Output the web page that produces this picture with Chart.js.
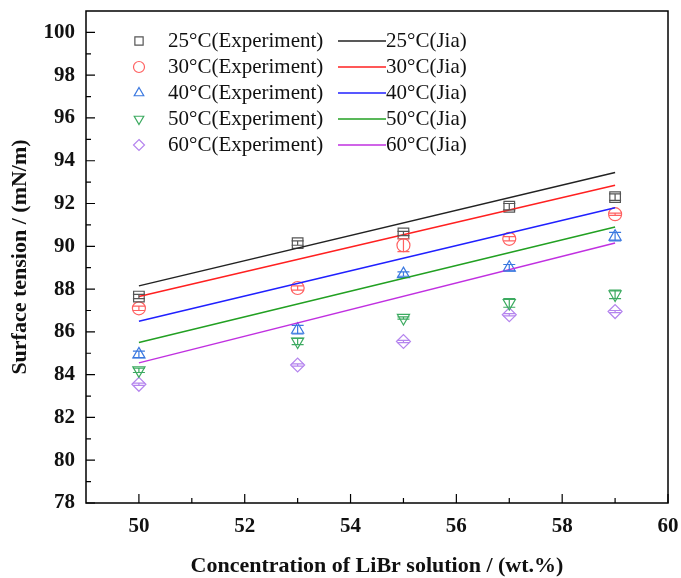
<!DOCTYPE html>
<html lang="en">
<head>
  <meta charset="UTF-8" />
  <title>Surface tension of LiBr solution</title>
  <script src="https://cdn.jsdelivr.net/npm/chart.js@4.4.1/dist/chart.umd.min.js"></script>
  <style>
    body { margin: 0; background: #fff; }
    #wrap { width: 681px; height: 578px; }
  </style>
</head>
<body>
  <div id="wrap"><canvas id="chart" width="681" height="578"></canvas></div>

  <script>
    // measured points (wt.%)
    const concentrations = [50, 53, 55, 57, 59];
    const exp25 = [87.65, 90.15, 90.6, 91.85, 92.3];
    const exp30 = [87.1, 88.05, 90.05, 90.35, 91.5];
    const exp40 = [84.95, 86.1, 88.7, 89.0, 90.45];
    const exp50 = [84.2, 85.55, 86.65, 87.35, 87.75];
    const exp60 = [83.55, 84.45, 85.55, 86.8, 86.95];
    const err25 = [0.1, 0.1, 0.1, 0.15, 0.15];
    const err30 = [0.1, 0.1, 0.3, 0.1, 0.05];
    const err40 = [0.15, 0.2, 0.1, 0.15, 0.2];
    const err50 = [0.1, 0.15, 0.05, 0.2, 0.2];
    const err60 = [0.05, 0.05, 0.05, 0.05, 0.05];

    // Jia model lines
    const modelConc = [50, 59];
    const jia25 = [88.15, 93.45];
    const jia30 = [87.65, 92.85];
    const jia40 = [86.5, 91.8];
    const jia50 = [85.5, 90.9];
    const jia60 = [84.55, 90.15];

    const temps = ['25°C', '30°C', '40°C', '50°C', '60°C'];
    const xTicks = [50, 52, 54, 56, 58, 60];
    const yTicks = [78, 80, 82, 84, 86, 88, 90, 92, 94, 96, 98, 100];
    const xMinor = [51, 53, 55, 57, 59];
    const yMinor = [79, 81, 83, 85, 87, 89, 91, 93, 95, 97, 99];

    const expColors = ['#555555', '#ff6060', '#3a78e0', '#3caa60', '#b585ee'];
    const lineColors = ['#222222', '#ff2020', '#2020ff', '#22a022', '#c030e0'];
    const markers = ['rect', 'circle', 'triangle', 'triangle', 'rectRot'];
    const rotations = [0, 0, 0, 180, 0];
    const radii = [7.5, 6.5, 7, 7, 7];

    const expSets = [exp25, exp30, exp40, exp50, exp60];
    const errSets = [err25, err30, err40, err50, err60];
    const jiaSets = [jia25, jia30, jia40, jia50, jia60];

    const pts = (xs, ys) => xs.map((x, i) => ({ x: x, y: ys[i] }));

    const datasets = [];
    temps.forEach((t, i) => {
      datasets.push({
        type: 'line',
        label: t + '(Jia)',
        data: pts(modelConc, jiaSets[i]),
        borderColor: lineColors[i],
        borderWidth: 1.5,
        pointRadius: 0,
        fill: false
      });
    });
    temps.forEach((t, i) => {
      datasets.push({
        type: 'scatter',
        label: t + '(Experiment)',
        data: pts(concentrations, expSets[i]),
        errors: errSets[i],
        borderColor: expColors[i],
        backgroundColor: 'transparent',
        pointStyle: markers[i],
        rotation: rotations[i],
        pointRadius: radii[i],
        borderWidth: 1.2
      });
    });

    const serif = '"Liberation Serif", "Times New Roman", serif';

    // small vertical error bars with caps
    const errorBars = {
      id: 'errorBars',
      afterDatasetsDraw(chart) {
        const ctx = chart.ctx;
        const xs = chart.scales.x, ys = chart.scales.y;
        chart.data.datasets.forEach(ds => {
          if (!ds.errors) return;
          ctx.save();
          ctx.strokeStyle = ds.borderColor;
          ctx.lineWidth = 1.2;
          ds.data.forEach((p, i) => {
            const px = xs.getPixelForValue(p.x);
            const y1 = ys.getPixelForValue(p.y + ds.errors[i]);
            const y2 = ys.getPixelForValue(p.y - ds.errors[i]);
            ctx.beginPath();
            ctx.moveTo(px, y1); ctx.lineTo(px, y2);
            ctx.moveTo(px - 6, y1); ctx.lineTo(px + 6, y1);
            ctx.moveTo(px - 6, y2); ctx.lineTo(px + 6, y2);
            ctx.stroke();
          });
          ctx.restore();
        });
      }
    };

    // box frame with inward ticks
    const frame = {
      id: 'frame',
      afterDraw(chart) {
        const ctx = chart.ctx;
        const a = chart.chartArea;
        const xs = chart.scales.x, ys = chart.scales.y;
        ctx.save();
        ctx.strokeStyle = '#000';
        ctx.lineWidth = 1.5;
        ctx.strokeRect(a.left, a.top, a.right - a.left, a.bottom - a.top);
        ctx.lineWidth = 1.2;
        ctx.beginPath();
        xTicks.forEach(v => { const p = xs.getPixelForValue(v); ctx.moveTo(p, a.bottom); ctx.lineTo(p, a.bottom - 9); });
        xMinor.forEach(v => { const p = xs.getPixelForValue(v); ctx.moveTo(p, a.bottom); ctx.lineTo(p, a.bottom - 5); });
        yTicks.forEach(v => { const p = ys.getPixelForValue(v); ctx.moveTo(a.left, p); ctx.lineTo(a.left + 9, p); });
        yMinor.forEach(v => { const p = ys.getPixelForValue(v); ctx.moveTo(a.left, p); ctx.lineTo(a.left + 5, p); });
        ctx.stroke();
        ctx.restore();
      }
    };

    function drawMarker(ctx, style, rot, x, y, r) {
      ctx.beginPath();
      if (style === 'rect') {
        ctx.rect(x - r * 0.75, y - r * 0.75, r * 1.5, r * 1.5);
      } else if (style === 'circle') {
        ctx.arc(x, y, r, 0, Math.PI * 2);
      } else if (style === 'triangle') {
        const s = rot ? -1 : 1;
        ctx.moveTo(x, y - s * r);
        ctx.lineTo(x + r * 0.866, y + s * r * 0.5);
        ctx.lineTo(x - r * 0.866, y + s * r * 0.5);
        ctx.closePath();
      } else {
        ctx.moveTo(x, y - r); ctx.lineTo(x + r, y); ctx.lineTo(x, y + r); ctx.lineTo(x - r, y);
        ctx.closePath();
      }
      ctx.stroke();
    }

    // two-column legend: experiment markers left, model lines right
    const legend2 = {
      id: 'legend2',
      afterDraw(chart) {
        const ctx = chart.ctx;
        ctx.save();
        ctx.font = '21px ' + serif;
        ctx.fillStyle = '#111';
        ctx.textBaseline = 'middle';
        ctx.textAlign = 'left';
        temps.forEach((t, i) => {
          const y = 41 + i * 26;
          ctx.strokeStyle = expColors[i];
          ctx.lineWidth = 1.2;
          drawMarker(ctx, markers[i], rotations[i], 139, y, 5.5);
          ctx.fillText(t + '(Experiment)', 168, y);
          ctx.strokeStyle = lineColors[i];
          ctx.lineWidth = 1.5;
          ctx.beginPath();
          ctx.moveTo(338, y); ctx.lineTo(386, y);
          ctx.stroke();
          ctx.fillText(t + '(Jia)', 386, y);
        });
        ctx.restore();
      }
    };

    new Chart(document.getElementById('chart').getContext('2d'), {
      type: 'scatter',
      data: { datasets: datasets },
      options: {
        responsive: false,
        animation: false,
        layout: { padding: { top: 11, right: 13, left: 0, bottom: 0 } },
        plugins: { legend: { display: false }, tooltip: { enabled: false } },
        scales: {
          x: {
            type: 'linear',
            min: 49,
            max: 60,
            grid: { display: false, drawTicks: false },
            border: { display: false },
            afterBuildTicks: s => { s.ticks = xTicks.map(v => ({ value: v })); },
            afterFit: s => { s.height = 75; s.paddingLeft = 0; s.paddingRight = 0; },
            ticks: {
              autoSkip: false,
              maxRotation: 0,
              padding: 11,
              color: '#111',
              font: { family: serif, size: 21, weight: 'bold' }
            },
            title: {
              display: true,
              text: 'Concentration of LiBr solution / (wt.%)',
              color: '#111',
              padding: { top: 0, bottom: -2 },
              font: { family: serif, size: 22, weight: 'bold' }
            }
          },
          y: {
            type: 'linear',
            min: 78,
            max: 101,
            grid: { display: false, drawTicks: false },
            border: { display: false },
            afterBuildTicks: s => { s.ticks = yTicks.map(v => ({ value: v })); },
            afterFit: s => { s.width = 86; s.paddingTop = 0; s.paddingBottom = 0; },
            ticks: {
              autoSkip: false,
              padding: 11,
              color: '#111',
              font: { family: serif, size: 21, weight: 'bold' }
            },
            title: {
              display: true,
              text: 'Surface tension / (mN/m)',
              color: '#111',
              padding: { top: 7, bottom: 0 },
              font: { family: serif, size: 22, weight: 'bold' }
            }
          }
        }
      },
      plugins: [errorBars, frame, legend2]
    });
  </script>
</body>
</html>
